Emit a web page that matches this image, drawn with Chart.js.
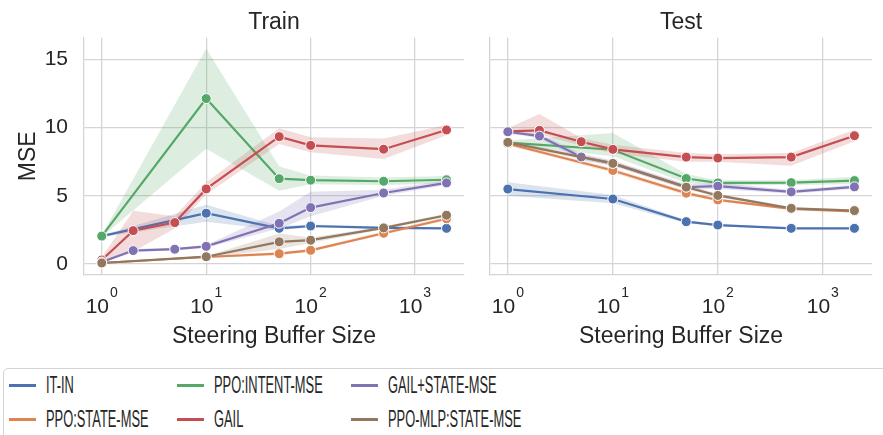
<!DOCTYPE html>
<html>
<head>
<meta charset="utf-8">
<script src="https://cdn.jsdelivr.net/npm/chart.js@4/dist/chart.umd.min.js"></script>
<style>
    body { margin: 0; background: #fff; width: 883px; height: 435px; overflow: hidden; position: relative; font-family: 'Liberation Sans', Arial, sans-serif; }
    #graficoTrain { position: absolute; left: 0; top: 0; }
    #graficoTest { position: absolute; left: 470px; top: 0; }
    #leyenda { position: absolute; left: 3px; top: 368px; width: 920px; height: 90px; border: 1.3px solid #d4d4d4; border-radius: 5px; box-sizing: border-box; background: #fff; }
    .linea { position: absolute; width: 27px; height: 3px; }
    .texto { position: absolute; height: 30px; line-height: 30px; font-size: 23px; color: #262626; white-space: nowrap; transform: scaleX(0.56); transform-origin: left center; }
</style>
</head>
<body>
<canvas id="graficoTrain" width="470" height="350"></canvas>
<canvas id="graficoTest" width="413" height="350"></canvas>
<div id="leyenda"></div>
<script>
// ==========================================
// MSE vs tamaño del buffer — paneles Train y Test
// ==========================================
const nombresSeries = ['IT-IN', 'PPO:STATE-MSE', 'PPO:INTENT-MSE', 'GAIL', 'GAIL+STATE-MSE', 'PPO-MLP:STATE-MSE'];
const coloresSeries = ['#4C72B0', '#DD8452', '#55A868', '#C44E52', '#8172B3', '#937860'];

const xCompleto = [1, 2, 5, 10, 50, 100, 500, 2000];
const xParcial = [1, 10, 50, 100, 500, 2000];
// qué lista de x usa cada serie (en el mismo orden que nombresSeries)
const xPorSerie = [xParcial, xParcial, xParcial, xCompleto, xCompleto, xParcial];

const ticksX = [1, 10, 100, 1000];
const ticksY = [0, 5, 10, 15];

// Train: media y banda (bajo / alto)
const trainMedia = [
    [2.05, 3.73, 2.62, 2.79, 2.66, 2.62],
    [0.08, 0.52, 0.76, 1.01, 2.26, 3.32],
    [2.05, 12.13, 6.26, 6.15, 6.07, 6.18],
    [0.3, 2.45, 3.04, 5.51, 9.34, 8.7, 8.42, 9.83],
    [0.15, 0.99, 1.09, 1.3, 2.99, 4.14, 5.21, 5.95],
    [0.08, 0.54, 1.63, 1.75, 2.65, 3.58]
];
const trainBajo = [
    [1.98, 3.11, 2.48, 2.68, 2.58, 2.55],
    [0.05, 0.45, 0.65, 0.9, 2.15, 3.2],
    [1.98, 8.45, 5.37, 5.85, 5.8, 5.9],
    [0.1, 0.9, 2.6, 5.1, 8.8, 8.2, 7.7, 9.45],
    [0.05, 0.9, 1.0, 1.2, 2.6, 3.5, 5.0, 5.8],
    [0.05, 0.48, 1.1, 1.55, 2.55, 3.45]
];
const trainAlto = [
    [2.12, 4.34, 2.8, 2.9, 2.75, 2.7],
    [0.12, 0.6, 0.88, 1.12, 2.4, 3.45],
    [2.12, 15.8, 7.15, 6.5, 6.35, 6.45],
    [0.5, 3.9, 3.5, 6.0, 9.95, 9.3, 9.2, 10.2],
    [0.25, 1.1, 1.2, 1.4, 3.85, 5.3, 5.45, 6.15],
    [0.12, 0.6, 2.25, 1.95, 2.75, 3.7]
];

// Test: media y banda (bajo / alto)
const testMedia = [
    [5.5, 4.77, 3.11, 2.86, 2.62, 2.62],
    [8.82, 6.86, 5.2, 4.7, 4.04, 3.87],
    [8.9, 8.38, 6.27, 5.95, 5.97, 6.12],
    [9.72, 9.8, 8.97, 8.41, 7.84, 7.77, 7.84, 9.41],
    [9.7, 9.38, 7.85, 7.38, 5.64, 5.71, 5.29, 5.66],
    [8.92, 7.38, 5.64, 5.03, 4.09, 3.92]
];
const testBajo = [
    [5.0, 4.46, 3.0, 2.78, 2.55, 2.55],
    [8.7, 6.7, 5.05, 4.6, 3.95, 3.78],
    [8.75, 7.9, 5.95, 5.75, 5.8, 5.85],
    [9.5, 9.5, 8.7, 8.1, 7.5, 7.5, 7.2, 9.0],
    [9.6, 9.2, 7.6, 7.2, 5.45, 5.5, 5.15, 5.5],
    [8.8, 7.2, 5.5, 4.9, 4.0, 3.83]
];
const testAlto = [
    [6.0, 5.07, 3.22, 2.94, 2.7, 2.7],
    [8.95, 7.0, 5.35, 4.8, 4.13, 3.96],
    [9.05, 9.6, 6.6, 6.15, 6.15, 6.4],
    [9.95, 11.0, 9.25, 8.75, 8.15, 8.05, 8.15, 9.85],
    [9.8, 9.55, 8.1, 7.6, 5.85, 5.95, 5.45, 5.82],
    [9.05, 7.55, 5.8, 5.15, 4.18, 4.0]
];

const FUENTE = "'Liberation Sans', Arial, sans-serif";
const COLOR_TEXTO = '#262626';
const COLOR_GRILLA = '#d5d5d5';

function conAlfa(hex, a) {
    let r = parseInt(hex.slice(1, 3), 16), g = parseInt(hex.slice(3, 5), 16), b = parseInt(hex.slice(5, 7), 16);
    return `rgba(${r},${g},${b},${a})`;
}

function puntos(xs, ys) {
    return xs.map((x, i) => ({ x, y: ys[i] }));
}

// Por cada serie: borde alto de la banda, borde bajo (rellena hasta el anterior) y la línea.
// En Chart.js el "order" más bajo se dibuja arriba, así que las series posteriores van encima.
function armarDatasets(media, bajo, alto) {
    let datasets = [];
    nombresSeries.forEach((nombre, i) => {
        let xs = xPorSerie[i];
        let color = coloresSeries[i];
        let ordenBase = 100 - i * 10;
        datasets.push({
            label: nombre + ' alto', data: puntos(xs, alto[i]),
            borderWidth: 0, pointRadius: 0, fill: false, order: ordenBase
        });
        datasets.push({
            label: nombre + ' bajo', data: puntos(xs, bajo[i]),
            borderWidth: 0, pointRadius: 0, fill: '-1', backgroundColor: conAlfa(color, 0.2), order: ordenBase - 1
        });
        datasets.push({
            label: nombre, data: puntos(xs, media[i]),
            borderColor: color, backgroundColor: color, borderWidth: 2.2, tension: 0,
            pointRadius: 5, pointBorderColor: '#ffffff', pointBorderWidth: 1, pointBackgroundColor: color,
            fill: false, order: ordenBase - 5
        });
    });
    return datasets;
}

// Etiquetas 10^n con el exponente chiquito y arriba, como en matplotlib
const etiquetasLog = {
    id: 'etiquetasLog',
    afterDraw(chart) {
        let escala = chart.scales.x;
        let ctx = chart.ctx;
        ctx.save();
        ctx.fillStyle = COLOR_TEXTO;
        ctx.textBaseline = 'alphabetic';
        ctx.textAlign = 'left';
        escala.ticks.forEach(t => {
            let exp = String(Math.round(Math.log10(t.value)));
            ctx.font = `21px ${FUENTE}`;
            let anchoBase = ctx.measureText('10').width;
            ctx.font = `14px ${FUENTE}`;
            let anchoExp = ctx.measureText(exp).width;
            let x0 = escala.getPixelForValue(t.value) - (anchoBase + anchoExp + 1) / 2;
            ctx.font = `21px ${FUENTE}`;
            ctx.fillText('10', x0, escala.top + 38);
            ctx.font = `14px ${FUENTE}`;
            ctx.fillText(exp, x0 + anchoBase + 1, escala.top + 22);
        });
        ctx.restore();
    }
};

function crearPanel(idCanvas, titulo, media, bajo, alto, conEjeY, anchoEjeY, padDerecho) {
    let ctx = document.getElementById(idCanvas).getContext('2d');
    return new Chart(ctx, {
        type: 'line',
        data: { datasets: armarDatasets(media, bajo, alto) },
        plugins: [etiquetasLog],
        options: {
            responsive: false,
            animation: false,
            devicePixelRatio: 1,
            layout: { padding: { left: 0, right: padDerecho, top: 0, bottom: 0 } },
            plugins: {
                legend: { display: false },
                tooltip: { enabled: false },
                title: {
                    display: true, text: titulo, fullSize: false, color: COLOR_TEXTO,
                    font: { size: 23, family: FUENTE, weight: 'normal' },
                    padding: { top: 9, bottom: 1 }
                }
            },
            scales: {
                x: {
                    type: 'logarithmic', min: 0.676, max: 2940,
                    afterBuildTicks: (s) => { s.ticks = ticksX.map(v => ({ value: v })); },
                    afterFit: (s) => { s.height = 75; },
                    ticks: { display: false },
                    grid: { color: COLOR_GRILLA, lineWidth: 1.3, drawTicks: false },
                    border: { display: true, color: COLOR_GRILLA, width: 1.3 },
                    title: {
                        display: true, text: 'Steering Buffer Size', color: COLOR_TEXTO,
                        font: { size: 23, family: FUENTE }, padding: { top: 0, bottom: 0 }
                    }
                },
                y: {
                    min: -0.8, max: 16.6,
                    afterBuildTicks: (s) => { s.ticks = ticksY.map(v => ({ value: v })); },
                    afterFit: (s) => { s.width = anchoEjeY; },
                    ticks: { display: conEjeY, padding: 16, color: COLOR_TEXTO, font: { size: 21, family: FUENTE } },
                    grid: { color: COLOR_GRILLA, lineWidth: 1.3, drawTicks: false },
                    border: { display: true, color: COLOR_GRILLA, width: 1.3 },
                    title: {
                        display: conEjeY, text: 'MSE', color: COLOR_TEXTO,
                        font: { size: 23, family: FUENTE }, padding: { top: 15 }
                    }
                }
            }
        }
    });
}

crearPanel('graficoTrain', 'Train', trainMedia, trainBajo, trainAlto, true, 84, 4);
crearPanel('graficoTest', 'Test', testMedia, testBajo, testAlto, false, 20, 11);

// Leyenda de abajo: 3 columnas, se llena por columna (como matplotlib)
const leyenda = document.getElementById('leyenda');
const colLinea = [5, 173, 347];
const colTexto = [42, 210, 384];
const filaCentro = [16, 50];
nombresSeries.forEach((nombre, i) => {
    let col = Math.floor(i / 2), fila = i % 2;
    let linea = document.createElement('div');
    linea.className = 'linea';
    linea.style.left = colLinea[col] + 'px';
    linea.style.top = (filaCentro[fila] - 1.5) + 'px';
    linea.style.background = coloresSeries[i];
    leyenda.appendChild(linea);
    let texto = document.createElement('div');
    texto.className = 'texto';
    texto.style.left = colTexto[col] + 'px';
    texto.style.top = (filaCentro[fila] - 15) + 'px';
    texto.textContent = nombre;
    leyenda.appendChild(texto);
});
</script>
</body>
</html>
